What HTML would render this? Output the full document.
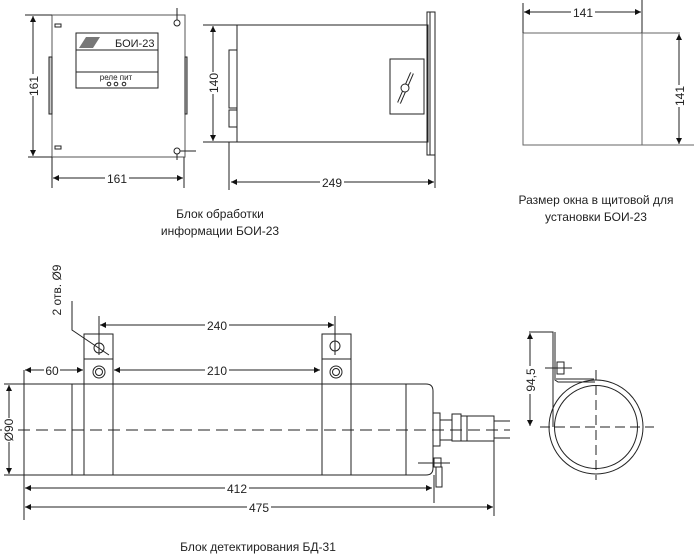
<!DOCTYPE html>
<html><head><meta charset="utf-8"><style>
html,body{margin:0;padding:0;background:#fff;width:696px;height:558px;overflow:hidden}
svg{display:block}
text{font-family:"Liberation Sans",sans-serif;fill:#222}
</style></head><body>
<svg width="696" height="558" viewBox="0 0 696 558" xmlns="http://www.w3.org/2000/svg">
<defs>
<marker id="a" viewBox="0 0 10 10" refX="10" refY="5" markerWidth="8" markerHeight="6" orient="auto-start-reverse" markerUnits="userSpaceOnUse"><path d="M0,0L10,5L0,10z" fill="#111"/></marker>
</defs>
<g stroke="#222" stroke-width="1" fill="none">
<!-- BOI front -->
<rect x="52" y="15" width="133" height="142" stroke="#555"/>
<line x1="25" y1="15" x2="52" y2="15"/><line x1="28" y1="157" x2="52" y2="157"/>
<line x1="33" y1="16" x2="33" y2="156" marker-start="url(#a)" marker-end="url(#a)"/>
<line x1="52" y1="157" x2="52" y2="188"/><line x1="184" y1="157" x2="184" y2="188"/>
<line x1="53" y1="178" x2="183" y2="178" marker-start="url(#a)" marker-end="url(#a)"/>
<rect x="49" y="57" width="3" height="57" fill="#ccc"/><rect x="185" y="57" width="2" height="57" fill="#ccc"/>
<rect x="55" y="24" width="6" height="3"/><rect x="55" y="146" width="6" height="3"/>
<circle cx="177" cy="23" r="3"/><circle cx="177" cy="151" r="3"/>
<line x1="177" y1="8" x2="177" y2="20"/><line x1="180" y1="151" x2="196" y2="151"/><line x1="177" y1="154" x2="177" y2="160"/>
<rect x="76" y="33" width="82" height="55"/><line x1="76" y1="50" x2="158" y2="50"/><line x1="76" y1="72" x2="158" y2="72"/>
<path d="M86,37L100,37L93,48L79,48z" fill="#777" stroke="none"/>
<circle cx="109" cy="84" r="1.8"/><circle cx="116" cy="84" r="1.8"/><circle cx="124" cy="84" r="1.8"/>
<!-- BOI side -->
<rect x="237" y="25" width="191" height="117"/>
<line x1="203" y1="25" x2="237" y2="25"/><line x1="203" y1="142" x2="237" y2="142"/>
<line x1="213" y1="26" x2="213" y2="141" marker-start="url(#a)" marker-end="url(#a)"/>
<rect x="229" y="50" width="8" height="58"/><rect x="229" y="110" width="8" height="17"/>
<rect x="427" y="12" width="8" height="143"/><line x1="430" y1="12" x2="430" y2="155"/>
<rect x="390" y="59" width="34" height="55"/>
<line x1="412" y1="73" x2="399" y2="103" stroke-width="4"/><line x1="412" y1="73" x2="399" y2="103" stroke="#fff" stroke-width="2"/>
<circle cx="405" cy="88" r="4" fill="#fff"/>
<line x1="229" y1="142" x2="229" y2="190"/><line x1="435" y1="155" x2="435" y2="188"/>
<line x1="231" y1="182" x2="434" y2="182" marker-start="url(#a)" marker-end="url(#a)"/>
<!-- window -->
<rect x="523" y="33" width="119" height="112" stroke="#666"/>
<line x1="523" y1="3" x2="523" y2="33"/><line x1="642" y1="0" x2="642" y2="33"/>
<line x1="524" y1="12" x2="641" y2="12" marker-start="url(#a)" marker-end="url(#a)"/>
<line x1="642" y1="33" x2="680" y2="33" stroke="#666"/><line x1="642" y1="145" x2="694" y2="145" stroke="#666"/>
<line x1="679" y1="34" x2="679" y2="144" marker-start="url(#a)" marker-end="url(#a)"/>
<!-- BD-31 -->
<path d="M24,384H426Q433,384 433,391V468Q433,475 426,475H24Z"/>
<line x1="72" y1="384" x2="72" y2="475"/><line x1="406" y1="384" x2="406" y2="475"/>
<rect x="84" y="334" width="29" height="141"/><rect x="322" y="334" width="29" height="141"/>
<line x1="84" y1="359" x2="113" y2="359"/><line x1="322" y1="359" x2="351" y2="359"/>
<circle cx="99" cy="348" r="5"/><circle cx="335" cy="346" r="5"/>
<circle cx="99" cy="372" r="6"/><circle cx="99" cy="372" r="3.5"/><circle cx="336" cy="372" r="6"/><circle cx="336" cy="372" r="3.5"/>
<line x1="0" y1="430" x2="510" y2="430" stroke-dasharray="12,6"/>
<line x1="99" y1="316" x2="99" y2="355"/><line x1="335" y1="316" x2="335" y2="355"/>
<line x1="100" y1="325" x2="334" y2="325" marker-start="url(#a)" marker-end="url(#a)"/>
<polyline points="72,301 72,330 109,355"/>
<line x1="24" y1="370" x2="24" y2="520"/>
<line x1="25" y1="370" x2="83" y2="370" marker-start="url(#a)" marker-end="url(#a)"/>
<line x1="114" y1="370" x2="320" y2="370" marker-start="url(#a)" marker-end="url(#a)"/>
<line x1="4" y1="384" x2="24" y2="384"/><line x1="4" y1="475" x2="24" y2="475"/>
<line x1="9" y1="385" x2="9" y2="474" marker-start="url(#a)" marker-end="url(#a)"/>
<rect x="433" y="413" width="7" height="33"/><rect x="440" y="420" width="12" height="20"/>
<rect x="452" y="414" width="9" height="27"/><rect x="461" y="416" width="33" height="25"/><line x1="467" y1="416" x2="467" y2="441"/>
<line x1="494" y1="421" x2="510" y2="421"/><line x1="494" y1="438" x2="510" y2="438"/>
<rect x="434" y="458" width="7" height="9"/><line x1="418" y1="463" x2="450" y2="463"/>
<rect x="436" y="467" width="6" height="20"/>
<line x1="434" y1="475" x2="434" y2="503"/><line x1="494" y1="416" x2="494" y2="516"/>
<line x1="25" y1="488" x2="432" y2="488" marker-start="url(#a)" marker-end="url(#a)"/>
<line x1="25" y1="507" x2="493" y2="507" marker-start="url(#a)" marker-end="url(#a)"/>
<!-- end view -->
<circle cx="596" cy="427" r="47"/><circle cx="596" cy="427" r="41.5"/>
<line x1="540" y1="427" x2="654" y2="427" stroke-dasharray="10,5"/><line x1="596" y1="370" x2="596" y2="480" stroke-dasharray="10,5"/>
<polyline points="529,332 553,332 553,427"/><polyline points="555,332 555,380 558,382 595,382"/><line x1="556" y1="382" x2="594" y2="382" transform="translate(0,-3)"/>
<rect x="557" y="362" width="7" height="12"/><line x1="545" y1="368" x2="572" y2="368"/>
<line x1="530" y1="333" x2="530" y2="426" marker-start="url(#a)" marker-end="url(#a)"/>
</g>
<g font-size="12">
<rect x="105" y="172" width="24" height="12" fill="#fff"/><text x="117" y="183" text-anchor="middle">161</text>
<rect x="26" y="74" width="14" height="22" fill="#fff"/><text transform="translate(38,86) rotate(-90)" text-anchor="middle">161</text>
<rect x="207" y="72" width="14" height="22" fill="#fff"/><text transform="translate(218,83) rotate(-90)" text-anchor="middle">140</text>
<rect x="320" y="176" width="24" height="12" fill="#fff"/><text x="332" y="187" text-anchor="middle">249</text>
<rect x="571" y="6" width="24" height="12" fill="#fff"/><text x="583" y="17" text-anchor="middle">141</text>
<rect x="672" y="85" width="14" height="22" fill="#fff"/><text transform="translate(684,96) rotate(-90)" text-anchor="middle">141</text>
<text x="115" y="47" font-size="11">БОИ-23</text>
<text x="116" y="80" font-size="8" text-anchor="middle">реле пит</text>
<rect x="205" y="319" width="24" height="12" fill="#fff"/><text x="217" y="330" text-anchor="middle">240</text>
<rect x="44" y="364" width="16" height="12" fill="#fff"/><text x="52" y="375" text-anchor="middle">60</text>
<rect x="205" y="364" width="24" height="12" fill="#fff"/><text x="217" y="375" text-anchor="middle">210</text>
<rect x="2" y="418" width="14" height="24" fill="#fff"/><text transform="translate(13,430) rotate(-90)" text-anchor="middle">Ø90</text>
<rect x="225" y="482" width="24" height="12" fill="#fff"/><text x="237" y="493" text-anchor="middle">412</text>
<rect x="247" y="501" width="24" height="12" fill="#fff"/><text x="259" y="512" text-anchor="middle">475</text>
<rect x="523" y="366" width="14" height="28" fill="#fff"/><text transform="translate(535,380) rotate(-90)" text-anchor="middle">94,5</text>
<text transform="translate(61,290) rotate(-90)" text-anchor="middle">2 отв. Ø9</text>
<text x="220" y="218" text-anchor="middle">Блок обработки</text>
<text x="220" y="235" text-anchor="middle">информации БОИ-23</text>
<text x="596" y="204" text-anchor="middle">Размер окна в щитовой для</text>
<text x="596" y="221" text-anchor="middle">установки БОИ-23</text>
<text x="258" y="551" text-anchor="middle">Блок детектирования БД-31</text>
</g>
</svg>
</body></html>
